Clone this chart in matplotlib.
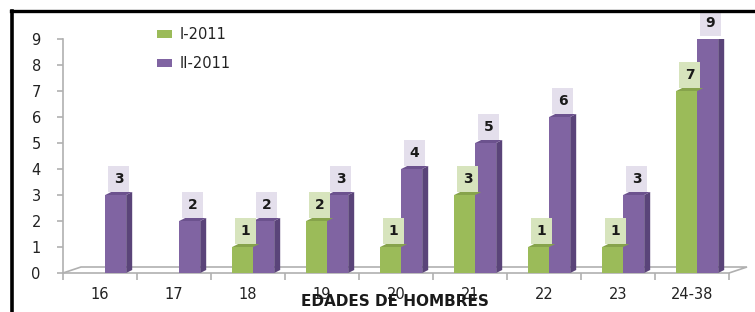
import numpy as np
import matplotlib.pyplot as plt
from matplotlib.patches import Polygon, Patch
from matplotlib.lines import Line2D

CATEGORIES = ['16', '17', '18', '19', '20', '21', '22', '23', '24-38']
I_2011 = [0, 0, 1, 2, 1, 3, 1, 1, 7]
II_2011 = [3, 2, 2, 3, 4, 5, 6, 3, 9]
SERIES_NAMES = ['I-2011', 'II-2011']
X_LABEL = 'EDADES DE HOMBRES'

GREEN = '#9bbb59'
GREEN_TOP = '#86a34b'
GREEN_BOX = '#d7e4bd'
PURPLE = '#8064a2'
PURPLE_SIDE = '#5a4479'
PURPLE_TOP = '#6c528e'
PURPLE_BOX = '#e4dfec'
GRID_GRAY = '#b0b0b0'

W, H = 755, 312
BAR_W = 0.284
SHIFT = 0.07
DEPTH = (6, 3)        # bar side depth in pixels
FLOOR = (18, 6)       # floor depth in pixels


def px(ax, x, y):
    return ax.transData.transform((x, y))


def draw_bar_3d(ax, x0, value, face, side, top):
    x1 = x0 + BAR_W
    ax.bar(x0, value, width=BAR_W, align='edge', color=face, zorder=3)
    if value <= 0:
        return
    dx, dy = DEPTH
    bl = px(ax, x1, 0)
    tl = px(ax, x0, value)
    tr = px(ax, x1, value)
    side_poly = [bl, bl + (dx, dy), tr + (dx, dy), tr]
    top_poly = [tl, tl + (dx, dy), tr + (dx, dy), tr]
    if side is not None:
        ax.add_patch(Polygon(side_poly, closed=True, transform=None,
                             facecolor=side, edgecolor='none', zorder=3))
    ax.add_patch(Polygon(top_poly, closed=True, transform=None,
                         facecolor=top, edgecolor='none', zorder=4))


def value_label(ax, xc, value, box):
    ax.annotate(str(value), (xc, value), xytext=(2, 11.5),
                textcoords='offset points', ha='center', va='center',
                fontsize=10, fontweight='bold', color='#1a1a1a',
                bbox=dict(boxstyle='square,pad=0.42', facecolor=box,
                          edgecolor='none'),
                annotation_clip=False, zorder=6)


def main():
    fig = plt.figure(figsize=(W / 100, H / 100), dpi=100)
    ax = fig.add_axes([63 / W, 39 / H, 666 / W, 234 / H])
    ax.set_xlim(-0.5, len(CATEGORIES) - 0.5)
    ax.set_ylim(0, 9)

    x = np.arange(len(CATEGORIES))

    # 3D floor
    dx, dy = FLOOR
    p0 = px(ax, -0.5, 0)
    p1 = px(ax, len(CATEGORIES) - 0.5, 0)
    floor = [p0, p0 + (dx, dy), p1 + (dx, dy), p1]
    ax.add_patch(Polygon(floor, closed=False, transform=None, fill=False,
                         edgecolor=GRID_GRAY, linewidth=1.2, zorder=1,
                         clip_on=False))

    for i in range(len(CATEGORIES)):
        g0 = x[i] + SHIFT - BAR_W
        p0x = x[i] + SHIFT
        if I_2011[i] > 0:
            draw_bar_3d(ax, g0, I_2011[i], GREEN, None, GREEN_TOP)
            value_label(ax, g0 + BAR_W / 2, I_2011[i], GREEN_BOX)
        draw_bar_3d(ax, p0x, II_2011[i], PURPLE, PURPLE_SIDE, PURPLE_TOP)
        value_label(ax, p0x + BAR_W / 2, II_2011[i], PURPLE_BOX)

    for s in ['top', 'right']:
        ax.spines[s].set_visible(False)
    for s in ['left', 'bottom']:
        ax.spines[s].set_color(GRID_GRAY)
        ax.spines[s].set_linewidth(1.2)

    ax.set_yticks(range(10))
    ax.set_xticks(x)
    ax.set_xticklabels(CATEGORIES)
    ax.set_xticks(np.arange(-0.5, len(CATEGORIES)), minor=True)
    ax.tick_params(axis='y', length=4, width=1.2, color=GRID_GRAY, pad=12,
                   labelsize=10.5, labelcolor='#222222')
    ax.tick_params(axis='x', which='major', length=0, pad=10,
                   labelsize=10.5, labelcolor='#222222')
    ax.tick_params(axis='x', which='minor', length=5, width=1.2,
                   color=GRID_GRAY)

    fig.text(395 / W, 1 - 302 / H, X_LABEL, ha='center', va='center',
             fontsize=11, fontweight='bold', color='#1a1a1a')

    handles = [Patch(facecolor=GREEN), Patch(facecolor=PURPLE)]
    fig.legend(handles, SERIES_NAMES, loc='upper left',
               bbox_to_anchor=(150 / W, 1 - 20 / H), frameon=False,
               borderpad=0, handlelength=1.0, handleheight=0.45,
               handletextpad=0.5, labelspacing=0.95, fontsize=10.5,
               labelcolor='#222222')

    # frame lines of the original picture
    fig.add_artist(Line2D([11 / W, 1], [1 - 11 / H, 1 - 11 / H],
                          color='black', linewidth=2.4))
    fig.add_artist(Line2D([12 / W, 12 / W], [0, 1 - 11 / H],
                          color='black', linewidth=2.6))

    fig.savefig('out.png', dpi=100)


if __name__ == '__main__':
    main()
